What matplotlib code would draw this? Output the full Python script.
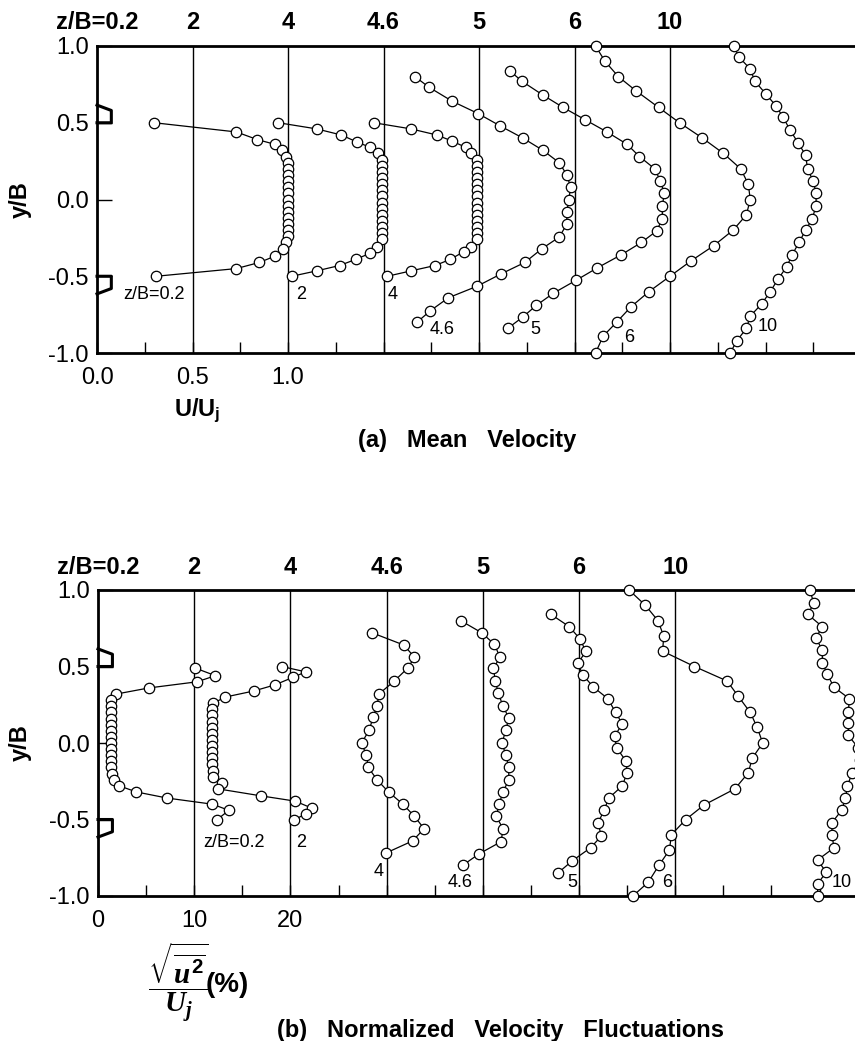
import matplotlib
matplotlib.use('Agg')
import matplotlib.pyplot as plt
import matplotlib.transforms as mtransforms

plt.rcParams['font.family'] = ['Liberation Sans', 'DejaVu Sans']
plt.rcParams['mathtext.fontset'] = 'custom'
plt.rcParams['mathtext.it'] = 'Liberation Serif:italic:bold'
plt.rcParams['mathtext.rm'] = 'Liberation Sans:bold'
plt.rcParams['mathtext.bf'] = 'Liberation Sans:bold'

# ---------------- data ----------------
stations = ['z/B=0.2', '2', '4', '4.6', '5', '6', '10']
header_names = ['z/B=0.2', '2', '4', '4.6', '5', '6', '10']

# (a) mean velocity, profile offsets (U/Uj units)
U_offsets = [0.0, 0.5, 1.0, 1.5, 2.0, 2.5, 3.0]
U_y_02 = [0.50, 0.44, 0.39, 0.36, 0.32, 0.28, 0.24, 0.20, 0.16, 0.12, 0.08, 0.04, 0.00,
          -0.04, -0.08, -0.12, -0.16, -0.20, -0.24, -0.28, -0.32, -0.37, -0.41, -0.45, -0.50]
U_v_02 = [0.30, 0.73, 0.84, 0.93, 0.97, 0.99, 1.00, 1.00, 1.00, 1.00, 1.00, 1.00, 1.00,
          1.00, 1.00, 1.00, 1.00, 1.00, 1.00, 0.99, 0.975, 0.93, 0.85, 0.73, 0.31]
U_y_2 = [0.50, 0.46, 0.42, 0.375, 0.34, 0.30, 0.26, 0.22, 0.18, 0.14, 0.10, 0.06, 0.02,
         -0.02, -0.06, -0.10, -0.14, -0.18, -0.22, -0.26, -0.31, -0.35, -0.39, -0.43, -0.465, -0.50]
U_v_2 = [0.45, 0.65, 0.78, 0.86, 0.93, 0.97, 0.99, 0.99, 0.99, 0.99, 0.99, 0.99, 0.99,
         0.99, 0.99, 0.99, 0.99, 0.99, 0.99, 0.99, 0.965, 0.93, 0.855, 0.77, 0.65, 0.52]
U_y_4 = [0.50, 0.46, 0.42, 0.38, 0.34, 0.30, 0.26, 0.22, 0.18, 0.14, 0.10, 0.06, 0.02,
         -0.02, -0.06, -0.10, -0.14, -0.18, -0.22, -0.26, -0.31, -0.34, -0.39, -0.43, -0.465, -0.50]
U_v_4 = [0.45, 0.644, 0.78, 0.86, 0.93, 0.96, 0.99, 0.99, 0.99, 0.99, 0.99, 0.99, 0.99,
         0.99, 0.99, 0.99, 0.99, 0.99, 0.99, 0.99, 0.96, 0.92, 0.85, 0.77, 0.644, 0.52]
U_y_46 = [0.80, 0.73, 0.64, 0.56, 0.48, 0.40, 0.32, 0.24, 0.16, 0.08, 0.00, -0.08, -0.16,
          -0.245, -0.32, -0.41, -0.485, -0.565, -0.64, -0.725, -0.80]
U_v_46 = [0.165, 0.24, 0.36, 0.495, 0.61, 0.73, 0.835, 0.92, 0.96, 0.98, 0.97, 0.96, 0.96,
          0.92, 0.83, 0.74, 0.615, 0.49, 0.34, 0.245, 0.175]
U_y_5 = [0.84, 0.77, 0.68, 0.60, 0.52, 0.44, 0.36, 0.28, 0.20, 0.12, 0.04, -0.04, -0.125,
         -0.205, -0.28, -0.36, -0.445, -0.525, -0.61, -0.69, -0.765, -0.84]
U_v_5 = [0.16, 0.225, 0.335, 0.44, 0.555, 0.67, 0.775, 0.84, 0.92, 0.95, 0.97, 0.96, 0.96,
         0.93, 0.85, 0.745, 0.62, 0.51, 0.39, 0.30, 0.23, 0.15]
U_y_6 = [1.0, 0.90, 0.80, 0.71, 0.60, 0.50, 0.40, 0.30, 0.20, 0.10, 0.0, -0.10, -0.20,
         -0.30, -0.40, -0.50, -0.60, -0.70, -0.80, -0.89, -1.0]
U_v_6 = [0.11, 0.16, 0.23, 0.32, 0.44, 0.55, 0.67, 0.78, 0.87, 0.91, 0.92, 0.90, 0.83,
         0.73, 0.61, 0.50, 0.39, 0.295, 0.22, 0.15, 0.11]
U_y_10 = [1.0, 0.93, 0.85, 0.77, 0.69, 0.61, 0.54, 0.45, 0.37, 0.29, 0.20, 0.12, 0.04,
          -0.04, -0.125, -0.20, -0.28, -0.36, -0.44, -0.52, -0.60, -0.68, -0.76, -0.84, -0.92, -1.0]
U_v_10 = [0.335, 0.36, 0.42, 0.445, 0.50, 0.555, 0.59, 0.63, 0.67, 0.71, 0.72, 0.75, 0.765,
          0.765, 0.745, 0.71, 0.675, 0.64, 0.61, 0.565, 0.525, 0.48, 0.42, 0.40, 0.35, 0.315]

# (b) velocity fluctuations (%), profile offsets
F_offsets = [0, 10, 20, 30, 40, 50, 60]
F_y_02 = [0.49, 0.44, 0.40, 0.36, 0.32, 0.28, 0.24, 0.20, 0.16, 0.12, 0.08, 0.04, 0.00,
          -0.04, -0.08, -0.12, -0.16, -0.20, -0.24, -0.28, -0.32, -0.36, -0.40, -0.44, -0.50]
F_v_02 = [10.1, 12.2, 10.3, 5.3, 1.9, 1.3, 1.4, 1.4, 1.4, 1.4, 1.4, 1.4, 1.4,
          1.4, 1.4, 1.4, 1.4, 1.5, 1.7, 2.2, 4.0, 7.2, 11.9, 13.6, 12.4]
F_y_2 = [0.50, 0.465, 0.43, 0.38, 0.34, 0.30, 0.26, 0.22, 0.18, 0.14, 0.10, 0.06, 0.02,
         -0.02, -0.06, -0.10, -0.14, -0.18, -0.22, -0.26, -0.30, -0.345, -0.38, -0.425, -0.465, -0.50]
F_v_2 = [9.1, 11.6, 10.3, 8.4, 6.2, 3.2, 2.0, 1.9, 1.9, 1.9, 1.9, 1.9, 1.9,
         1.9, 1.9, 1.9, 1.9, 2.0, 2.0, 2.9, 2.5, 6.9, 10.5, 12.2, 11.6, 10.4]
F_y_4 = [0.72, 0.64, 0.56, 0.49, 0.405, 0.32, 0.24, 0.17, 0.085, 0.0, -0.08, -0.16,
         -0.24, -0.32, -0.40, -0.48, -0.56, -0.64, -0.72]
F_v_4 = [8.5, 11.8, 12.9, 12.2, 10.8, 9.2, 9.0, 8.6, 8.2, 7.4, 7.9, 8.1,
         9.0, 10.2, 11.7, 12.9, 13.9, 12.7, 9.9]
F_y_46 = [0.80, 0.72, 0.645, 0.56, 0.49, 0.405, 0.33, 0.24, 0.165, 0.085, 0.0, -0.08, -0.16,
          -0.24, -0.32, -0.40, -0.48, -0.56, -0.645, -0.725, -0.80]
F_v_46 = [7.7, 9.9, 11.2, 11.8, 11.1, 11.3, 11.6, 12.1, 12.7, 12.4, 12.0, 12.4, 12.7,
          12.7, 12.1, 11.7, 11.4, 12.1, 11.9, 9.6, 7.9]
F_y_5 = [0.84, 0.76, 0.68, 0.60, 0.52, 0.445, 0.365, 0.29, 0.20, 0.125, 0.045, -0.03, -0.12,
         -0.195, -0.28, -0.36, -0.44, -0.52, -0.61, -0.685, -0.77, -0.85]
F_v_5 = [7.1, 9.0, 10.1, 10.7, 9.9, 10.4, 11.5, 13.0, 13.8, 14.5, 13.7, 13.9, 14.9,
         15.0, 14.5, 13.1, 12.6, 12.0, 12.3, 11.2, 9.3, 7.8]
F_y_6 = [1.0, 0.90, 0.80, 0.70, 0.60, 0.50, 0.405, 0.31, 0.20, 0.105, 0.0, -0.10, -0.195,
         -0.30, -0.405, -0.50, -0.60, -0.70, -0.80, -0.91, -1.0]
F_v_6 = [5.2, 6.9, 8.2, 8.8, 8.7, 12.0, 15.4, 16.5, 17.8, 18.5, 19.1, 18.0, 17.6,
         16.2, 13.0, 11.1, 9.6, 9.4, 8.3, 7.2, 5.6]
F_y_10 = [1.0, 0.915, 0.84, 0.76, 0.685, 0.61, 0.525, 0.45, 0.365, 0.29, 0.20, 0.13, 0.05,
          -0.03, -0.11, -0.195, -0.28, -0.36, -0.44, -0.52, -0.60, -0.685, -0.765, -0.845, -0.92, -1.0]
F_v_10 = [14.0, 14.4, 13.8, 15.3, 14.6, 15.3, 15.3, 15.8, 16.5, 18.1, 18.0, 18.0, 18.0,
          19.0, 19.2, 18.4, 17.9, 17.7, 17.3, 16.3, 16.3, 16.5, 14.8, 15.7, 14.8, 14.8]

U_profiles = [(U_y_02, U_v_02), (U_y_2, U_v_2), (U_y_4, U_v_4), (U_y_46, U_v_46),
              (U_y_5, U_v_5), (U_y_6, U_v_6), (U_y_10, U_v_10)]
F_profiles = [(F_y_02, F_v_02), (F_y_2, F_v_2), (F_y_4, F_v_4), (F_y_46, F_v_46),
              (F_y_5, F_v_5), (F_y_6, F_v_6), (F_y_10, F_v_10)]

# in-plot station labels (data coords)
U_label_pos = [(0.14, -0.62), (1.04, -0.62), (1.52, -0.62), (1.74, -0.85),
               (2.27, -0.85), (2.76, -0.90), (3.46, -0.83)]
F_label_pos = [(10.9, -0.65), (20.6, -0.65), (28.6, -0.84), (36.3, -0.915),
               (48.8, -0.915), (58.6, -0.915), (76.3, -0.915)]

U_xticks = [0.0, 0.25, 0.5, 0.75, 1.0, 1.25, 1.5, 1.75, 2.0, 2.25, 2.5, 2.75, 3.0, 3.25, 3.5, 3.75]
U_xticklabels = ['0.0', '', '0.5', '', '1.0', '', '', '', '', '', '', '', '', '', '', '']
F_xticks = [0, 5, 10, 15, 20, 25, 30, 35, 40, 45, 50, 55, 60, 65, 70, 75]
F_xticklabels = ['0', '', '10', '', '20', '', '', '', '', '', '', '', '', '', '', '']
yticks = [-1.0, -0.5, 0.0, 0.5, 1.0]
yticklabels = ['-1.0', '-0.5', '0.0', '0.5', '1.0']

nozzle_top_y = [0.615, 0.58, 0.50, 0.50]
nozzle_bot_y = [-0.50, -0.50, -0.58, -0.615]

# ---------------- figure ----------------
W, H = 855, 1041
fig = plt.figure(figsize=(W / 100, H / 100), dpi=100)
ax1 = fig.add_axes([97 / W, 1 - 353 / H, 1 - 97 / W, (353 - 46) / H])
ax2 = fig.add_axes([98 / W, 1 - 896 / H, 1 - 98 / W, (896 - 590) / H])


def draw_panel(ax, offsets, profiles, xmax, xticks, xticklabels, label_pos, nozzle_w, header_y):
    ax.set_xlim(0, xmax)
    ax.set_ylim(-1, 1)
    ax.spines['right'].set_visible(False)
    for s in ['left', 'top', 'bottom']:
        ax.spines[s].set_linewidth(2.0)
    ax.set_xticks(xticks)
    ax.set_xticklabels(xticklabels)
    ax.tick_params(axis='x', direction='in', length=8, width=1, pad=10, labelsize=17)
    ax.set_yticks(yticks)
    ax.set_yticklabels(yticklabels)
    ax.tick_params(axis='y', direction='in', length=11, width=1, pad=6, labelsize=17)
    for b in offsets[1:]:
        ax.axvline(b, color='black', lw=1.0, zorder=1)
    for off, (ys, vs) in zip(offsets, profiles):
        ax.plot([off + v for v in vs], ys, '-', color='black', lw=0.9,
                marker='o', ms=7.5, mfc='white', mec='black', mew=0.9,
                clip_on=False, zorder=3)
    for name, (lx, ly) in zip(stations, label_pos):
        ax.text(lx, ly, name, fontsize=13, ha='left', va='center', zorder=4)
    trans = mtransforms.blended_transform_factory(ax.transData, ax.transAxes)
    for name, off in zip(header_names, offsets):
        ax.text(off, header_y, name, transform=trans, ha='center', va='center',
                fontsize=17, fontweight='bold')
    # nozzle lips
    ax.plot([0, nozzle_w, nozzle_w, 0], nozzle_top_y, color='black', lw=2.2, clip_on=False)
    ax.plot([0, nozzle_w, nozzle_w, 0], nozzle_bot_y, color='black', lw=2.2, clip_on=False)
    ax.set_ylabel('y/B', fontsize=17, fontweight='bold', labelpad=4)


draw_panel(ax1, U_offsets, U_profiles, 758 / 191, U_xticks, U_xticklabels,
           U_label_pos, 0.075, 1.078)
draw_panel(ax2, F_offsets, F_profiles, 757 / 9.62, F_xticks, F_xticklabels,
           F_label_pos, 1.5, 1.072)
ax1.yaxis.set_label_coords(-65 / 758, 0.5)
ax2.yaxis.set_label_coords(-66 / 757, 0.5)

fig.text(197 / W, 1 - 410 / H, r'U/U$_{\mathregular{j}}$', ha='center', va='center',
         fontsize=17, fontweight='bold')
fig.text(358 / W, 1 - 441 / H, '(a)   Mean   Velocity', ha='left', va='center',
         fontsize=17, fontweight='bold')
fig.text(178 / W, 1 - 982 / H, r'$\dfrac{\sqrt{\overline{u^{2}}}}{U_{j}}$', ha='center',
         va='center', fontsize=21)
fig.text(206 / W, 1 - 985 / H, '(%)', ha='left', va='center', fontsize=20, fontweight='bold')
fig.text(500 / W, 1 - 1030 / H, '(b)   Normalized   Velocity   Fluctuations', ha='center',
         va='center', fontsize=17, fontweight='bold')

fig.savefig('out.png', dpi=100)
